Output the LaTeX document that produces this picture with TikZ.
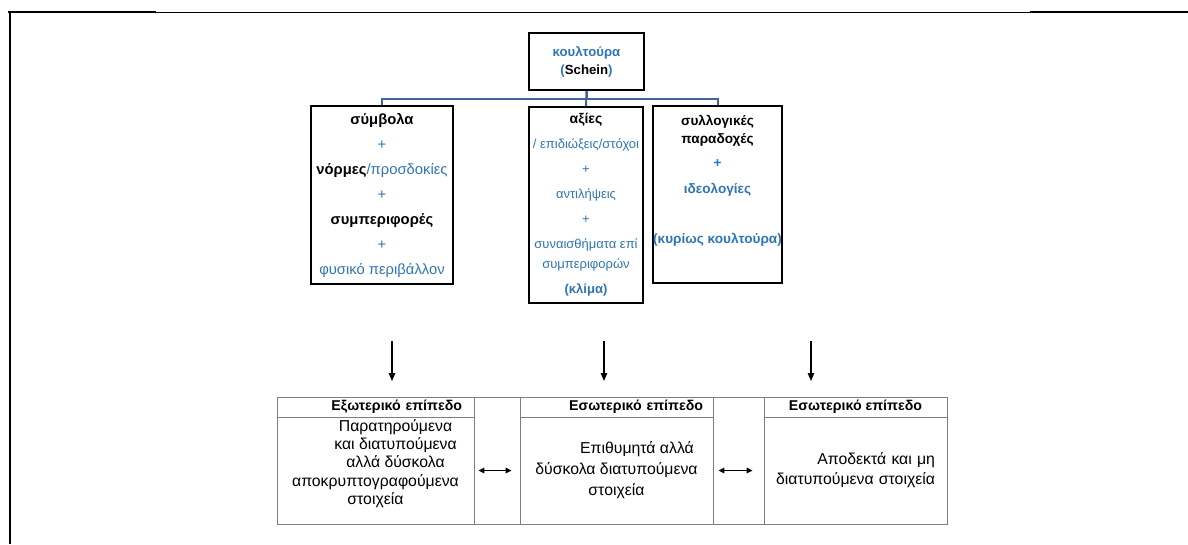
\documentclass[tikz,border=0pt]{standalone}
\usepackage{fontspec}
\setmainfont{Liberation Sans}
\usetikzlibrary{arrows.meta,positioning,calc}

\definecolor{cultblue}{RGB}{46,117,182}
\definecolor{linkblue}{RGB}{66,100,150}
\definecolor{cellgray}{RGB}{125,125,125}

\newcommand{\bl}[1]{\textcolor{cultblue}{#1}}

\tikzset{
  conceptbox/.style={draw, line width=1.6pt, inner sep=0pt, align=center,
    font=\fontsize{14.8}{25}\selectfont},
  linkline/.style={draw=linkblue, line width=2pt},
  downarrow/.style={-{Triangle[length=8pt,width=6.5pt]}, line width=1.2pt},
  twoway/.style={{Triangle[length=6pt,width=5.5pt]}-{Triangle[length=6pt,width=5.5pt]}, line width=1.4pt},
  cell/.style={draw=cellgray, line width=0.8pt, inner sep=0pt},
  headcell/.style={cell, minimum height=20pt, font=\bfseries\fontsize{14.2}{15}\selectfont},
  bodycell/.style={cell, minimum height=107pt, align=center, font=\fontsize{15.8}{20}\selectfont},
}

\begin{document}
\begin{tikzpicture}[x=1pt, y=-1pt]
    \useasboundingbox (0,0) rectangle (1188,544);

    % page frame
    \draw[line width=1.8pt] (8,12) -- (156,12);
    \draw[line width=0.8pt] (156,12) -- (1030,12);
    \draw[line width=1.8pt] (1030,12) -- (1188,12);
    \draw[line width=2pt] (10,12) -- (10,544);

    % culture and its three parts
    \node[conceptbox, font=\bfseries\fontsize{13.2}{18}\selectfont,
          minimum width=115pt, minimum height=57pt] (culture) at (586.5,61.5)
        {\bl{κουλτούρα}\\\bl{(}Schein\bl{)}};

    \node[conceptbox, minimum width=142pt, minimum height=178pt] (symbols) at (382,195)
        {\textbf{σύμβολα}\\ \bl{+}\\ \textbf{νόρμες}\bl{/προσδοκίες}\\ \bl{+}\\
         \textbf{συμπεριφορές}\\ \bl{+}\\ \bl{φυσικό περιβάλλον}};

    \node[conceptbox, font=\fontsize{13}{25}\selectfont,
          minimum width=114pt, minimum height=196pt] (values) at (586,205)
        {\textbf{\fontsize{14}{25}\selectfont αξίες}\\ \bl{/ επιδιώξεις/στόχοι}\\ \bl{+}\\ \bl{αντιλήψεις}\\ \bl{+}\\
         \bl{συναισθήματα επί}\\[-5pt] \bl{συμπεριφορών}\\ \bl{\textbf{(κλίμα)}}};

    \node[conceptbox, line width=2.4pt, minimum width=129pt, minimum height=177pt]
        (assumptions) at (717.5,194.5) {};
    \node[align=center, inner sep=0pt, anchor=north, font=\bfseries\fontsize{13.6}{24}\selectfont]
        (assumptxt) at ($(assumptions.north)+(0,10)$)
        {συλλογικές\\[-6pt] παραδοχές\\ \bl{+}\\[2pt] \bl{ιδεολογίες}\\[26pt] \bl{(κυρίως κουλτούρα)}};

    \draw[linkline] (culture.south) -- (values.north);
    \draw[linkline] (culture.south) -- ++(0,8) -| (symbols.north);
    \draw[linkline] (culture.south) -- ++(0,8) -| (assumptions.north);

    % arrows down to the levels
    \coordinate (symbfrom) at (392,341);
    \coordinate (symbto) at (392,381);
    \coordinate (valfrom) at (604,341);
    \coordinate (valto) at (604,381);
    \coordinate (assumfrom) at (811,341);
    \coordinate (assumto) at (811,381);
    \draw[downarrow] (symbfrom) -- (symbto);
    \draw[downarrow] (valfrom) -- (valto);
    \draw[downarrow] (assumfrom) -- (assumto);

    % table of levels
    \node[headcell, minimum width=197pt, text width=173pt, align=right] (outerhead) at (375.5,407)
        {Εξωτερικό επίπεδο};
    \node[bodycell, minimum width=197pt,
          label={[name=outertxt, align=center, yshift=7pt, font=\fontsize{15.8}{18.3}\selectfont]center:
          \hspace*{40pt}Παρατηρούμενα\\ \hspace*{40pt}και διατυπούμενα\\ \hspace*{40pt}αλλά δύσκολα\\
          αποκρυπτογραφούμενα\\ στοιχεία}] (outerbody) at (375.5,470.5) {};
    \node[cell, minimum width=46pt, minimum height=127pt] (gapone) at (497,460.5) {};

    \node[headcell, minimum width=193pt, text width=173pt, align=right] (innerhead) at (616.5,407)
        {Εσωτερικό επίπεδο};
    \node[bodycell, minimum width=193pt, font=\fontsize{15.8}{21}\selectfont] (innerbody) at (616.5,470.5)
        {\hspace*{41pt}Επιθυμητά αλλά\\ δύσκολα διατυπούμενα\\ στοιχεία};
    \node[cell, minimum width=51pt, minimum height=127pt] (gaptwo) at (738.5,460.5) {};

    \node[headcell, minimum width=183pt] (deephead) at (855.5,407) {Εσωτερικό επίπεδο};
    \node[bodycell, minimum width=183pt, text width=159pt, align=right] (deepbody) at (855.5,470.5)
        {Αποδεκτά και μη\\ διατυπούμενα στοιχεία};

    \draw[twoway, shorten <=4pt, shorten >=8pt] (outerbody.east) -- (innerbody.west);
    \draw[twoway, shorten <=5pt, shorten >=11pt] (innerbody.east) -- (deepbody.west);
\end{tikzpicture}
\end{document}
